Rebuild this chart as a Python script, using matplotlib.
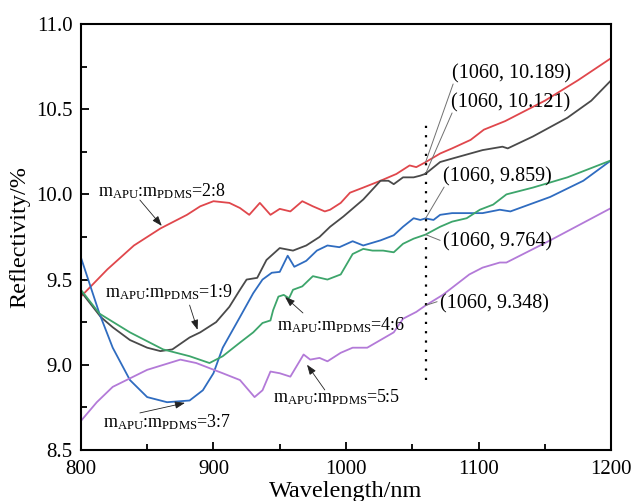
import matplotlib
matplotlib.use("Agg")
import matplotlib.pyplot as plt
from matplotlib.ticker import MultipleLocator, FormatStrFormatter

plt.rcParams['font.family'] = ['Liberation Serif', 'DejaVu Serif']
plt.rcParams['mathtext.fontset'] = 'custom'
plt.rcParams['mathtext.rm'] = 'Liberation Serif'
plt.rcParams['mathtext.it'] = 'Liberation Serif:italic'

# ---- data ----
red_x = [800, 820, 840, 860, 880, 890, 900, 912, 920, 927, 935, 943, 950, 958, 967, 975, 984,
         988, 996, 1003, 1013, 1026, 1038, 1048, 1053, 1060, 1071, 1080, 1094, 1104, 1120, 1150, 1175, 1200]
red_y = [9.40, 9.56, 9.70, 9.80, 9.88, 9.93, 9.96, 9.95, 9.92, 9.88, 9.95, 9.88, 9.915, 9.90, 9.96, 9.93, 9.90,
         9.91, 9.95, 10.01, 10.04, 10.08, 10.12, 10.17, 10.16, 10.189, 10.24, 10.27, 10.32, 10.38, 10.43, 10.55, 10.67, 10.80]

black_x = [800, 815, 824, 837, 850, 860, 869, 882, 890, 902, 912, 920, 925, 933, 940, 950, 960, 970, 980,
           988, 998, 1013, 1026, 1032, 1036, 1043, 1051, 1056, 1060, 1071, 1080, 1103, 1118, 1122, 1141, 1167, 1185, 1200]
black_y = [9.43, 9.28, 9.22, 9.145, 9.10, 9.08, 9.09, 9.16, 9.19, 9.25, 9.34, 9.44, 9.50, 9.51, 9.615, 9.685, 9.67, 9.70, 9.75,
           9.81, 9.87, 9.97, 10.08, 10.08, 10.06, 10.10, 10.10, 10.11, 10.121, 10.19, 10.21, 10.26, 10.28, 10.27, 10.34, 10.45, 10.55, 10.67]

blue_x = [800, 814, 824, 837, 850, 865, 882, 892, 900, 907, 920, 930, 937, 944, 950, 956, 961, 970, 978, 986,
          995, 1005, 1013, 1026, 1036, 1043, 1051, 1056, 1060, 1066, 1071, 1080, 1103, 1116, 1124, 1154, 1179, 1200]
blue_y = [9.63, 9.30, 9.10, 8.91, 8.81, 8.78, 8.79, 8.85, 8.95, 9.10, 9.28, 9.42, 9.50, 9.54, 9.545, 9.64, 9.575, 9.61, 9.67, 9.70,
          9.69, 9.725, 9.70, 9.73, 9.76, 9.81, 9.86, 9.85, 9.859, 9.85, 9.88, 9.89, 9.89, 9.91, 9.90, 9.985, 10.08, 10.20]

green_x = [800, 814, 837, 862, 882, 897, 907, 920, 930, 937, 943, 945, 949, 953, 957, 960, 967, 975, 986,
           996, 1005, 1013, 1020, 1028, 1036, 1043, 1051, 1060, 1071, 1080, 1091, 1101, 1111, 1121, 1141, 1167, 1200]
green_y = [9.44, 9.30, 9.19, 9.09, 9.05, 9.01, 9.05, 9.13, 9.19, 9.245, 9.26, 9.32, 9.40, 9.41, 9.39, 9.44, 9.46, 9.52, 9.50,
           9.53, 9.65, 9.68, 9.67, 9.67, 9.66, 9.71, 9.74, 9.764, 9.81, 9.84, 9.86, 9.91, 9.94, 10.00, 10.04, 10.10, 10.20]

purple_x = [800, 812, 824, 850, 875, 887, 907, 920, 931, 937, 943, 950, 958, 968, 973, 980, 986, 996,
            1005, 1016, 1026, 1036, 1043, 1053, 1060, 1073, 1093, 1103, 1116, 1121, 1154, 1200]
purple_y = [8.67, 8.78, 8.87, 8.97, 9.03, 9.01, 8.95, 8.91, 8.81, 8.85, 8.96, 8.95, 8.93, 9.06, 9.03, 9.04, 9.02, 9.07,
            9.10, 9.10, 9.145, 9.19, 9.27, 9.31, 9.348, 9.41, 9.53, 9.57, 9.60, 9.60, 9.73, 9.92]

marker_x = 1060
marker_y = [10.189, 10.121, 9.859, 9.764, 9.348]
marker_labels = ['(1060, 10.189)', '(1060, 10.121)', '(1060, 9.859)', '(1060, 9.764)', '(1060, 9.348)']
marker_text_pos = [(1080, 10.71), (1079, 10.54), (1073, 10.10), (1073, 9.72), (1071, 9.36)]
marker_leader_start = [(1080.8, 10.648), (1080, 10.478), (1074, 10.043), (1071, 9.73), (1068.7, 9.37)]

ratios = ['2:8', '1:9', '3:7', '4:6', '5:5']
ratio_text_pos = [(813, 9.99), (818, 9.398), (816.6, 8.635), (948, 9.204), (945, 8.78)]
ratio_arrow_tip = [(861, 9.815), (888, 9.205), (878.5, 8.776), (954, 9.398), (970.6, 9.00)]
ratio_arrow_base = [(844.5, 9.967), (882, 9.35), (844.5, 8.717), (967.5, 9.304), (984, 8.852)]

fig = plt.figure(figsize=(6.32, 5.01), dpi=100)
ax = fig.add_axes([0.128, 0.102, 0.839, 0.850])

lw = 1.3
ax.plot(red_x, red_y, color='#e0474c', lw=lw)
ax.plot(black_x, black_y, color='#4a4a4a', lw=lw)
ax.plot(blue_x, blue_y, color='#2f6cc0', lw=lw)
ax.plot(green_x, green_y, color='#3da56b', lw=lw)
ax.plot(purple_x, purple_y, color='#b37ad8', lw=lw)

ax.plot([marker_x, marker_x], [8.91, 10.43], color='black', lw=1.6, linestyle=(0, (1, 3.2)))

for lab, yv, (tx, ty), st in zip(marker_labels, marker_y, marker_text_pos, marker_leader_start):
    ax.text(tx, ty, lab, fontsize=14.5, ha='left', va='center')
    ax.annotate('', xy=(marker_x, yv), xytext=st,
                arrowprops=dict(arrowstyle='-', color='#707070', lw=0.7, shrinkA=0, shrinkB=0))

for r, (tx, ty), tip, base in zip(ratios, ratio_text_pos, ratio_arrow_tip, ratio_arrow_base):
    ax.text(tx, ty, r'm$_{\mathrm{APU}}$:m$_{\mathrm{PDMS}}$=' + r, fontsize=13, ha='left', va='baseline')
    ax.annotate('', xy=tip, xytext=base,
                arrowprops=dict(arrowstyle='-|>,head_length=0.6,head_width=0.22',
                                color='#222222', lw=0.6, shrinkA=0, shrinkB=0))

ax.set_xlim(800, 1200)
ax.set_ylim(8.5, 11.0)
ax.xaxis.set_major_locator(MultipleLocator(100))
ax.xaxis.set_minor_locator(MultipleLocator(50))
ax.yaxis.set_major_locator(MultipleLocator(0.5))
ax.yaxis.set_minor_locator(MultipleLocator(0.25))
ax.tick_params(which='both', direction='in', top=False, right=False, labelsize=15, width=1.3)
ax.tick_params(which='major', length=6)
ax.tick_params(which='minor', length=4)
ax.tick_params(axis='x', pad=7)
ax.tick_params(axis='y', pad=6)
ax.yaxis.set_major_formatter(FormatStrFormatter('%.1f'))
for s in ax.spines.values():
    s.set_linewidth(1.5)

ax.set_xlabel('Wavelength/nm', fontsize=17.5, labelpad=2)
ax.set_ylabel('Reflectivity/%', fontsize=17.5, labelpad=4)

fig.savefig('out.png', dpi=100)
